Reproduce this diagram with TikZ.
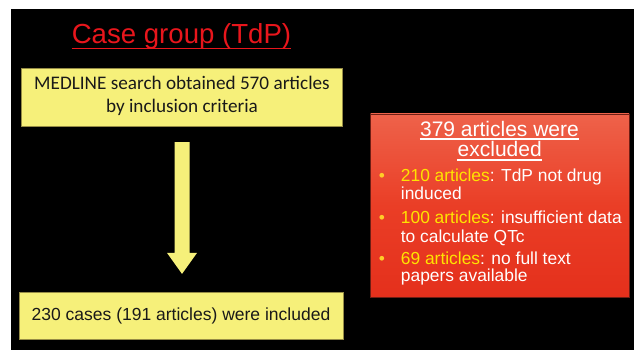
\documentclass[tikz,border=0pt]{standalone}
\usepackage{fontspec}
\setmainfont{Liberation Sans}
\newfontfamily\calibri{Carlito}
\usetikzlibrary{calc}
\definecolor{boxyellow}{RGB}{246,240,122}
\definecolor{boxedge}{RGB}{150,140,70}
\definecolor{titlered}{RGB}{232,22,28}
\definecolor{redtop}{RGB}{238,98,74}
\definecolor{redmid}{RGB}{234,62,38}
\definecolor{redbot}{RGB}{228,48,28}
\definecolor{rededge}{RGB}{110,30,20}
\definecolor{hiyellow}{RGB}{255,228,0}
\definecolor{bulletc}{RGB}{255,205,40}
\definecolor{darktext}{RGB}{25,25,25}
\begin{document}
\begin{tikzpicture}[x=1pt,y=-1pt,
  ybox/.style={draw=boxedge, line width=0.8pt, fill=boxyellow, inner sep=0pt},
  txt/.style={inner sep=0pt, anchor=base},
  cal/.style={txt, font=\calibri\fontsize{19.2}{22}\selectfont, text=darktext},
  ari/.style={txt, font=\fontsize{17.5}{20}\selectfont, text=darktext},
  bul/.style={inner sep=0pt, anchor=base west, font=\fontsize{17.4}{20}\selectfont, text=white},
  bdot/.style={inner sep=0pt, anchor=base, font=\fontsize{17.4}{20}\selectfont, text=bulletc},
  extitle/.style={txt, font=\fontsize{21}{24}\selectfont, text=white}]
\useasboundingbox (0,0) rectangle (634,350);
\fill[white] (0,0) rectangle (634,350);
\fill[black] (11,9) rectangle (634,350);

% title
\node[txt, font=\fontsize{27.6}{30}\selectfont, text=titlered] (title) at (181.5,44) {Case group (TdP)};
\draw[titlered, line width=1.6pt] ([yshift=-4.7pt]title.base west) -- ([yshift=-4.7pt]title.base east);

% yellow boxes
\node[ybox, minimum width=321pt, minimum height=58pt] (box1) at (182,97.7) {};
\node[cal] (m1) at (182,89.3) {MEDLINE search obtained 570 articles};
\node[cal] (m2) at (182,113) {by inclusion criteria};

\node[ybox, minimum width=324pt, minimum height=47pt] (box2) at (181,315.8) {};
\node[ari] (inc) at (181,320) {230 cases (191 articles) were included};

% block arrow
\coordinate (atop) at ($(box1.south)+(0,15)$);
\coordinate (atip) at ($(atop |- box2.north)+(0,-18)$);
\fill[boxyellow] ($(atop)+(-7.5,0)$) -- ($(atop)+(7.5,0)$) -- ($(atip)+(7.5,-21)$)
  -- ($(atip)+(15,-21)$) -- (atip) -- ($(atip)+(-15,-21)$) -- ($(atip)+(-7.5,-21)$) -- cycle;

% red exclusion box
\node[draw=rededge, line width=0.8pt, top color=redtop, bottom color=redbot, middle color=redmid,
  minimum width=258.3pt, minimum height=183.3pt, inner sep=0pt] (ex) at (499.85,205.65) {};
\node[extitle] (e1) at (499.5,136) {379 articles were};
\node[extitle] (e2) at (499.7,157) {excluded};
\draw[white, line width=1.2pt] ([yshift=-3pt]e1.base west) -- ([yshift=-3pt]e1.base east);
\draw[white, line width=1.2pt] ([yshift=-3pt]e2.base west) -- ([yshift=-3pt]e2.base east);

\node[bdot] (d1) at (382,181.7) {•};
\node[bul] (b1a) at (400.7,181.7) {\textcolor{hiyellow}{210 articles}: TdP not drug};
\node[bul] (b1b) at (400.7,199) {induced};
\node[bdot] (d2) at (382,223.3) {•};
\node[bul] (b2a) at (400.7,223.3) {\textcolor{hiyellow}{100 articles}: insufficient data};
\node[bul] (b2b) at (400.7,242.5) {to calculate QTc};
\node[bdot] (d3) at (382,264) {•};
\node[bul] (b3a) at (400.7,264) {\textcolor{hiyellow}{69 articles}: no full text};
\node[bul] (b3b) at (400.7,281.7) {papers available};
\end{tikzpicture}
\end{document}
